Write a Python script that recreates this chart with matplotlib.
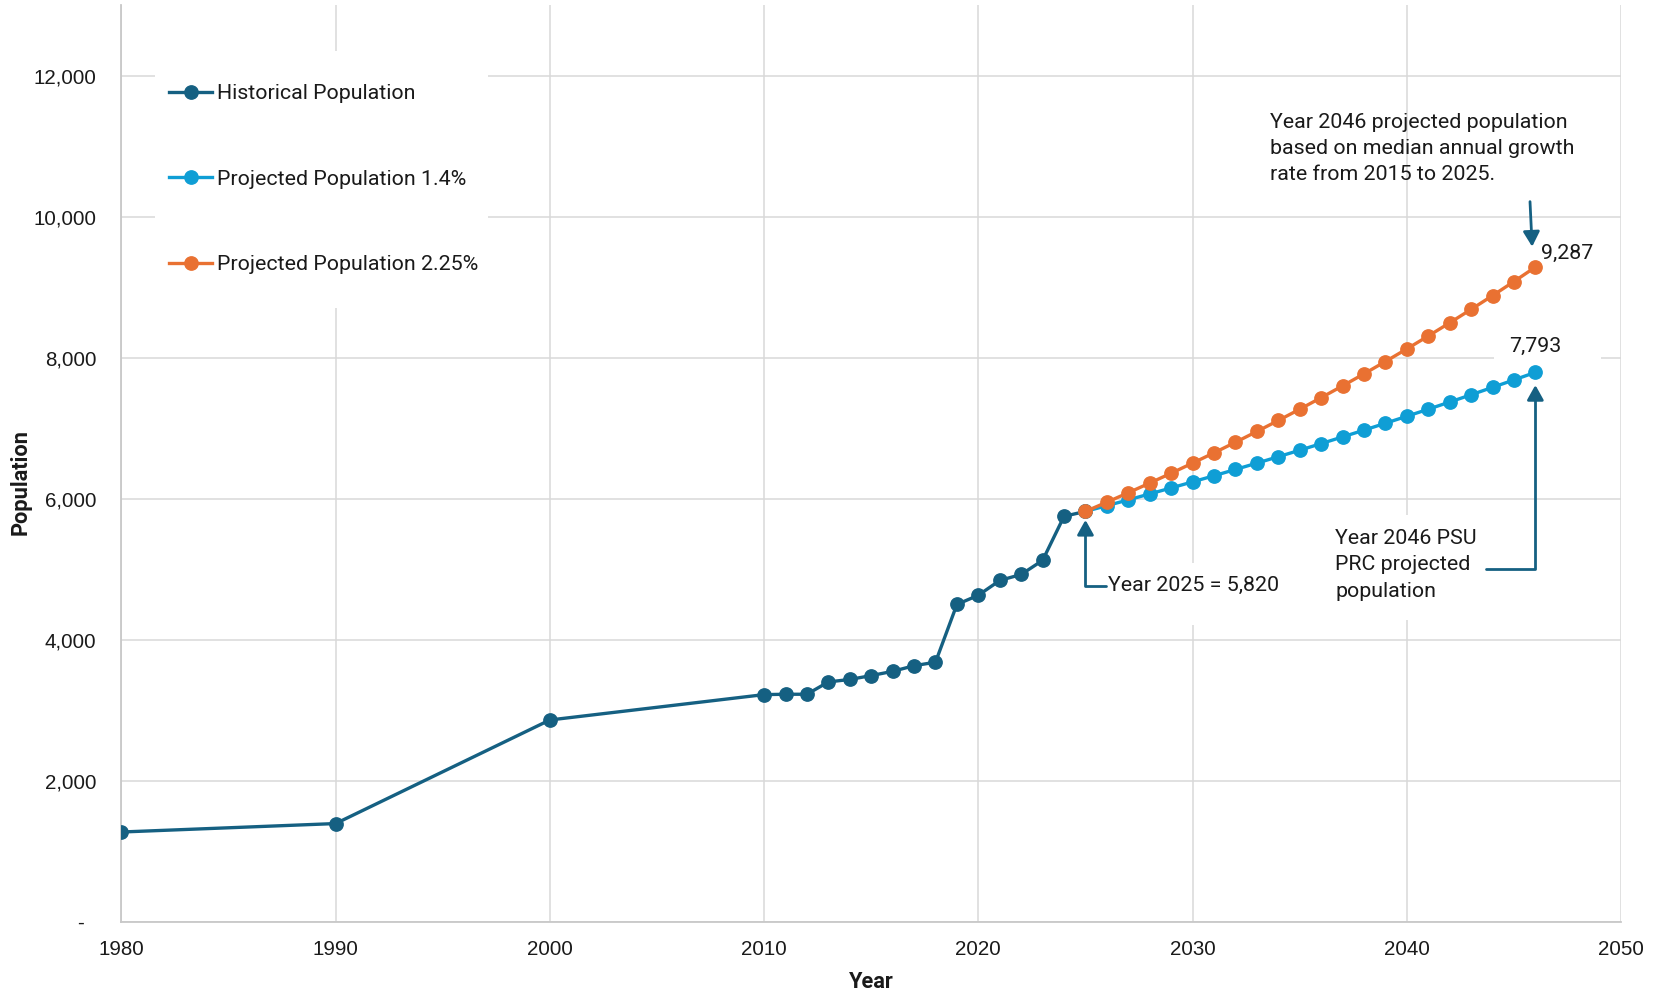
import matplotlib
matplotlib.use("Agg")
import matplotlib.pyplot as plt
from matplotlib.patches import Rectangle
from matplotlib.ticker import FixedLocator, FuncFormatter

# ---------------- data ----------------
hist_years = [1980, 1990, 2000, 2010, 2011, 2012, 2013, 2014, 2015, 2016, 2017,
              2018, 2019, 2020, 2021, 2022, 2023, 2024, 2025]
hist_pop = [1270, 1390, 2860, 3220, 3225, 3225, 3400, 3435, 3490, 3550, 3630,
            3680, 4500, 4630, 4840, 4925, 5125, 5750, 5820]

proj_years = list(range(2025, 2047))
proj_low = [5820, 5901, 5984, 6068, 6153, 6239, 6326, 6415, 6505, 6596, 6688,
            6782, 6877, 6973, 7071, 7170, 7270, 7372, 7475, 7580, 7686, 7793]
proj_high = [5820, 5951, 6085, 6222, 6362, 6505, 6651, 6801, 6954, 7110, 7270,
             7434, 7601, 7772, 7947, 8126, 8309, 8496, 8687, 8882, 9082, 9287]

series_labels = ["Historical Population", "Projected Population 1.4%",
                 "Projected Population 2.25%"]
x_ticks = [1980, 1990, 2000, 2010, 2020, 2030, 2040, 2050]
y_ticks = [0, 2000, 4000, 6000, 8000, 10000, 12000]

note_2025 = "Year 2025 = 5,820"
note_psu = "Year 2046 PSU\nPRC projected\npopulation"
note_median = ("Year 2046 projected population\nbased on median annual growth\n"
               "rate from 2015 to 2025.")

# ---------------- style ----------------
C_HIST = "#156082"
C_LOW = "#0F9ED5"
C_HIGH = "#E97132"
GRID = "#D9D9D9"
TXT = "#1a1a1a"
TFONT = ["Roboto", "DejaVu Sans"]
NFONT = ["Liberation Sans", "DejaVu Sans"]
FS = 15.4
TICKFS = 14.8

fig = plt.figure(figsize=(16.56, 9.93), dpi=100)
ax = fig.add_axes([0.0733, 0.072, 0.9056, 0.9225])

ax.set_xlim(1980, 2050)
ax.set_ylim(0, 13000)
ax.xaxis.set_major_locator(FixedLocator(x_ticks))
ax.yaxis.set_major_locator(FixedLocator(y_ticks))
ax.yaxis.set_major_formatter(FuncFormatter(lambda v, p: "-  " if v == 0 else f"{int(v):,}"))
ax.set_axisbelow(True)
ax.grid(True, color=GRID, linewidth=1.1, zorder=0.5)
for s in ["top", "right"]:
    ax.spines[s].set_visible(False)
for s in ["left", "bottom"]:
    ax.spines[s].set_color("#C8C8C8")
    ax.spines[s].set_linewidth(1.3)
ax.tick_params(axis="both", length=0, colors=TXT, labelsize=TICKFS)
ax.tick_params(axis="x", pad=13)
ax.tick_params(axis="y", pad=18)
for lab in ax.get_xticklabels() + ax.get_yticklabels():
    lab.set_family(NFONT)

xl = ax.set_xlabel("Year", fontsize=15.7, fontweight="bold", family=TFONT, color=TXT)
yl = ax.set_ylabel("Population", fontsize=15.7, fontweight="bold", family=TFONT, color=TXT)
xl.set_va("center")
yl.set_va("center")
ax.xaxis.set_label_coords(0.5, -0.066)
ax.yaxis.set_label_coords(-0.067, 0.48)

# white boxes hiding gridlines behind legend / notes
ax.add_patch(Rectangle((0.0224, 0.6698), 0.2221, 0.2809, transform=ax.transAxes,
                       facecolor="white", edgecolor="none", zorder=1))
ax.add_patch(Rectangle((2025.7, 4208), 8.7, 880, facecolor="white",
                       edgecolor="none", zorder=1))
ax.add_patch(Rectangle((2036.2, 4279), 7.2, 1490, facecolor="white",
                       edgecolor="none", zorder=1))
ax.add_patch(Rectangle((2044.07, 7850), 5.0, 545, facecolor="white",
                       edgecolor="none", zorder=1))

# series
lkw = dict(linewidth=2.4, marker="o", markersize=9.6)
ax.plot(hist_years, hist_pop, color=C_HIST, label=series_labels[0], zorder=3, **lkw)
ax.plot(proj_years, proj_low, color=C_LOW, label=series_labels[1], zorder=4, **lkw)
ax.plot(proj_years, proj_high, color=C_HIGH, label=series_labels[2], zorder=5, **lkw)

leg = ax.legend(loc="center left", bbox_to_anchor=(0.0317, 0.8103), frameon=False,
                borderpad=0, borderaxespad=0, handlelength=2.02, handletextpad=0.23,
                labelspacing=3.12, prop={"family": TFONT, "size": FS})
for t in leg.get_texts():
    t.set_color(TXT)

# data labels
ax.text(proj_years[-1] + 0.28, proj_high[-1] + 196, f"{proj_high[-1]:,}", ha="left",
        va="center", fontsize=FS, family=TFONT, color=TXT, zorder=6)
ax.text(proj_years[-1], proj_low[-1] + 365, f"{proj_low[-1]:,}", ha="center",
        va="center", fontsize=FS, family=TFONT, color=TXT, zorder=6)

# notes and arrows
akw = dict(arrowstyle="-|>,head_length=0.45,head_width=0.25", color=C_HIST,
           lw=2.0, shrinkA=0, shrinkB=0, mutation_scale=20)
ax.text(2026.05, 4776, note_2025, ha="left", va="center", fontsize=FS,
        family=TFONT, color=TXT, zorder=6)
ax.annotate("", xy=(2025, 5700), xytext=(2025.95, 4765),
            arrowprops=dict(connectionstyle="angle,angleA=0,angleB=90,rad=0", **akw),
            zorder=6)

ax.text(2036.65, 5060, note_psu, ha="left", va="center", fontsize=FS,
        family=TFONT, color=TXT, linespacing=1.48, zorder=6)
ax.annotate("", xy=(2046, 7614), xytext=(2043.68, 5000),
            arrowprops=dict(connectionstyle="angle,angleA=0,angleB=90,rad=0", **akw),
            zorder=6)

ax.text(2033.6, 10974, note_median, ha="left", va="center", fontsize=FS,
        family=TFONT, color=TXT, linespacing=1.48, zorder=6)
ax.annotate("", xy=(2045.85, 9577), xytext=(2045.75, 10216),
            arrowprops=dict(**akw), zorder=6)

fig.savefig("out.png", dpi=100, facecolor="white")
